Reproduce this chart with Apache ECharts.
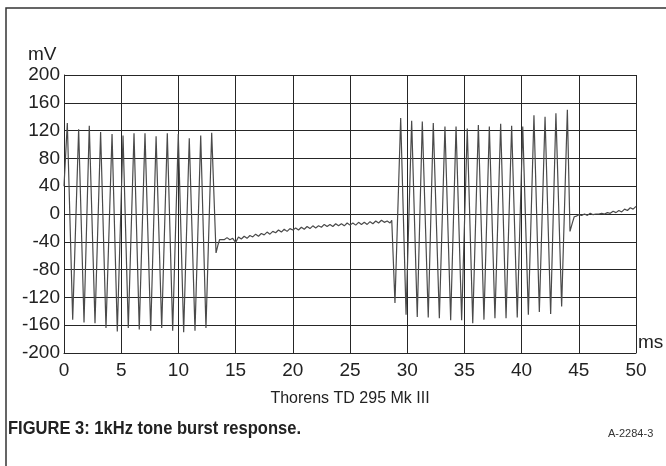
<!DOCTYPE html>
<html>
<head>
<meta charset="utf-8">
<script src="https://cdn.jsdelivr.net/npm/echarts@6/dist/echarts.min.js"></script>
<style>
  html, body { margin: 0; padding: 0; background: #fff; }
  #chart { width: 666px; height: 466px; }
</style>
</head>
<body>
<div id="chart"></div>
<script>
// tick labels
var xTicks = [0, 5, 10, 15, 20, 25, 30, 35, 40, 45, 50];
var yTicks = [-200, -160, -120, -80, -40, 0, 40, 80, 120, 160, 200];

// first burst (ms, mV) - peaks and troughs
var burst1T = [0, 0.29, 0.76, 1.28, 1.75, 2.21, 2.71, 3.2, 3.67, 4.2, 4.66, 5.16, 5.62, 6.12, 6.58,
  7.08, 7.58, 8.05, 8.54, 9.03, 9.5, 9.99, 10.46, 10.95, 11.45, 11.95, 12.41, 12.91, 13.29, 13.45, 13.6];
var burst1V = [40, 131, -152, 122, -156, 127, -157, 118, -164, 115, -169, 113, -164, 116, -166,
  116, -168, 112, -164, 116, -168, 115, -170, 109, -168, 113, -164, 117, -56, -45, -37];

// settling between bursts
var decay1T = [13.75, 14, 14.25, 14.5, 14.75, 15, 15.25, 15.5, 15.75, 16, 16.25, 16.5, 16.75, 17, 17.25,
  17.5, 17.75, 18, 18.25, 18.5, 18.75, 19, 19.25, 19.5, 19.75, 20, 20.25, 20.5, 20.75, 21, 21.25, 21.5,
  21.75, 22, 22.25, 22.5, 22.75, 23, 23.25, 23.5, 23.75, 24, 24.25, 24.5, 24.75, 25, 25.25, 25.5, 25.75,
  26, 26.25, 26.5, 26.75, 27, 27.25, 27.5, 27.75, 28, 28.25, 28.5, 28.65];
var decay1V = [-35, -37, -34, -37, -35, -41, -33, -36, -32, -35, -31, -33, -29, -32, -28,
  -30, -26, -29, -25, -27, -23, -26, -22, -25, -21, -23, -20, -23, -19, -22, -18, -21,
  -17, -20, -17, -19, -15, -18, -15, -18, -14, -17, -14, -17, -13, -16, -13, -16, -12,
  -15, -12, -15, -11, -14, -10, -13, -9, -12, -10, -13, -9];

// second burst
var burst2T = [28.93, 29.43, 29.9, 30.39, 30.88, 31.32, 31.84, 32.28, 32.81, 33.3, 33.8, 34.27, 34.76,
  35.25, 35.73, 36.22, 36.71, 37.18, 37.67, 38.17, 38.64, 39.13, 39.62, 40.1, 40.59, 41.08, 41.55,
  42.05, 42.54, 43.0, 43.5, 44.0];
var burst2V = [-128, 138, -145, 134, -148, 133, -149, 131, -150, 126, -153, 126, -153,
  123, -157, 128, -152, 126, -150, 130, -150, 127, -149, 126, -145, 142, -141,
  140, -144, 145, -133, 150];

// settling after second burst
var decay2T = [44.23, 44.45, 44.6, 44.8, 45, 45.25, 45.5, 45.75, 46, 46.25, 46.5, 46.75, 47, 47.25,
  47.5, 47.75, 48, 48.25, 48.5, 48.75, 49, 49.25, 49.5, 49.75, 50];
var decay2V = [-25, -12, -4, -3, -1, -2, 0, -2, 1, -1, 0, 0, 1, 0,
  2, 1, 4, 2, 5, 3, 7, 5, 9, 7, 11];

var traceT = burst1T.concat(decay1T, burst2T, decay2T);
var traceV = burst1V.concat(decay1V, burst2V, decay2V);
var trace = traceT.map(function (t, i) { return [t, traceV[i]]; });

var gridColor = '#262626';
var textColor = '#222';
var font = "'Liberation Sans', Arial, sans-serif";

var myChart = echarts.init(document.getElementById('chart'), null, { renderer: 'canvas' });

myChart.setOption({
  animation: false,
  backgroundColor: '#fff',
  grid: { left: 64, top: 75, width: 572, height: 278, show: false },
  xAxis: {
    type: 'value',
    min: 0,
    max: 50,
    interval: 5,
    axisLine: { show: true, onZero: false, lineStyle: { color: gridColor, width: 1 } },
    axisTick: { show: false },
    axisLabel: {
      color: textColor, fontSize: 19, fontFamily: font, margin: 8,
      formatter: function (v) { return xTicks.indexOf(v) >= 0 ? String(v) : ''; }
    },
    splitLine: { show: true, lineStyle: { color: gridColor, width: 1 } }
  },
  yAxis: {
    type: 'value',
    min: -200,
    max: 200,
    interval: 40,
    axisLine: { show: true, onZero: false, lineStyle: { color: gridColor, width: 1 } },
    axisTick: { show: false },
    axisLabel: {
      color: textColor, fontSize: 19, fontFamily: font, margin: 4,
      formatter: function (v) { return yTicks.indexOf(v) >= 0 ? String(v) : ''; }
    },
    splitLine: { show: true, lineStyle: { color: gridColor, width: 1 } }
  },
  series: [
    {
      name: 'Thorens TD 295 Mk III',
      type: 'line',
      data: trace,
      showSymbol: false,
      lineStyle: { color: '#4a4a4a', width: 1.2 },
      z: 1
    }
  ],
  graphic: [
    {
      type: 'polyline',
      shape: { points: [[6, 466], [6, 8], [666, 8]] },
      style: { stroke: '#333', lineWidth: 1.5, fill: null }
    },
    {
      type: 'text', left: 28, top: 45,
      style: { text: 'mV', fontSize: 19, fontFamily: font, fill: textColor }
    },
    {
      type: 'text', left: 638, top: 333,
      style: { text: 'ms', fontSize: 19, fontFamily: font, fill: textColor }
    },
    {
      type: 'text', x: 350, y: 399,
      style: { text: 'Thorens TD 295 Mk III', fontSize: 16, fontFamily: font, fill: textColor,
        textAlign: 'center', textVerticalAlign: 'middle' }
    },
    {
      type: 'text', x: 8, y: 419, scaleX: 0.87,
      style: { text: 'FIGURE 3: 1kHz tone burst response.', fontSize: 19, fontWeight: 'bold',
        fontFamily: font, fill: '#222' }
    },
    {
      type: 'text', left: 608, top: 428,
      style: { text: 'A-2284-3', fontSize: 11, fontFamily: font, fill: '#333' }
    }
  ]
});
</script>
</body>
</html>
